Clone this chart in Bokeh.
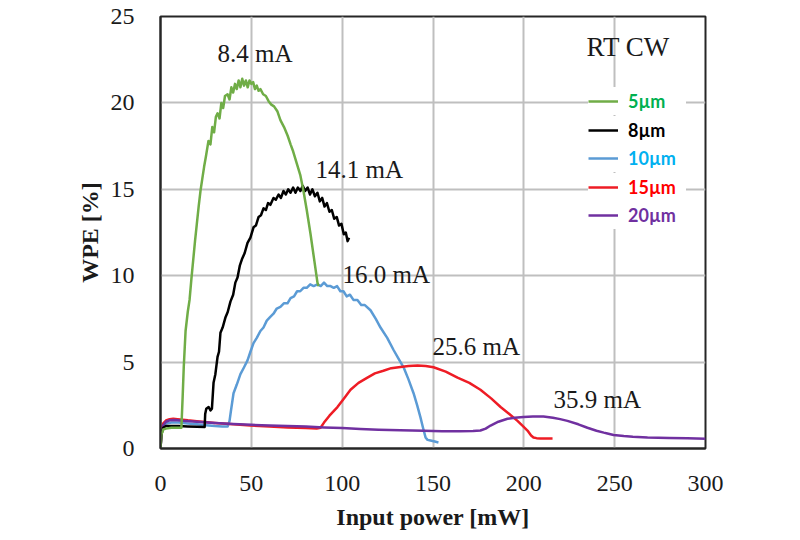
from bokeh.plotting import figure
from bokeh.models import Range1d, Legend, LegendItem, FixedTicker, ColumnDataSource
from bokeh.core.properties import value
from bokeh.embed import file_html
from bokeh.resources import INLINE

# ---------------- data ----------------
x_ticks = [0, 50, 100, 150, 200, 250, 300]
y_ticks = [0, 5, 10, 15, 20, 25]

series_names = ["5\u00b5m", "8\u00b5m", "10\u00b5m", "15\u00b5m", "20\u00b5m"]

wpe_5um = [(0, 0), (0.5, 0.8), (1.5, 1.1), (3, 1.15), (6, 1.2), (9, 1.2), (11.5, 1.2),
           (12.2, 3.0), (12.8, 4.7), (13.8, 6.8), (15, 7.9), (16, 8.6), (17, 9.8), (18, 10.9),
           (19, 12.0), (20, 13.0), (21, 14.0), (22, 14.9), (23, 15.6), (24, 16.3), (25, 16.9),
           (26.4, 17.8), (27.5, 17.6), (28.5, 18.6), (29.5, 18.3), (30.5, 19.2), (31.4, 19.4),
           (32.5, 19.1), (33.5, 20.0), (34.5, 19.7), (35.5, 20.4), (36.9, 20.5), (38, 20.2),
           (39, 20.9), (40, 20.6), (41, 21.1), (42, 20.8), (43, 21.3), (44, 20.9), (45, 21.4),
           (46, 21.0), (47, 21.3), (48, 20.9), (49, 21.3), (50, 21.1), (51, 21.2), (52, 20.8),
           (53, 21.0), (54, 20.7), (55, 20.8), (56.5, 20.5), (58, 20.4), (59.5, 20.1),
           (61, 19.9), (62.5, 19.8), (64.4, 19.5), (66, 19.0), (68, 18.6), (70, 18.1),
           (71.6, 17.6), (73, 17.2), (75, 16.5), (77, 15.8), (78.7, 14.9), (80.5, 13.8),
           (82.6, 12.4), (84.5, 11.0), (86.4, 9.6), (87, 9.4)]

wpe_8um = [(0, 0), (0.5, 0.8), (1.5, 1.2), (3, 1.3), (6, 1.3), (10, 1.3), (15, 1.28), (20, 1.26),
           (24.3, 1.25), (24.6, 2.0), (25.2, 2.3), (26.5, 2.4), (27.5, 2.2), (28.3, 2.3),
           (29.2, 3.8), (30.2, 4.3), (31.4, 5.3), (32.2, 5.6), (33, 6.7), (34.2, 7.0),
           (35.8, 7.6), (37, 7.9), (38.5, 8.5), (40, 8.9), (41.2, 9.6), (42.4, 9.9),
           (43.7, 10.6), (45, 11.0), (46.3, 11.3), (47.9, 11.9), (49.5, 12.2), (51.2, 12.8),
           (52.5, 12.9), (54, 13.4), (55.3, 13.5), (56.7, 13.9), (58, 13.8), (59.2, 14.2),
           (60.5, 14.1), (62.2, 14.5), (63.5, 14.4), (65, 14.7), (66.3, 14.5), (67.7, 14.9),
           (69, 14.7), (70.3, 15.0), (71.6, 14.8), (73, 15.1), (74.3, 14.8), (75.6, 15.1),
           (77, 14.9), (78.3, 15.2), (79.6, 14.9), (81, 15.1), (82.3, 14.7), (83.6, 15.0),
           (85, 14.6), (86.4, 14.8), (87.7, 14.3), (89, 14.5), (90.3, 14.0), (91.6, 14.2),
           (93, 13.7), (94.3, 13.8), (95.6, 13.3), (97, 13.4), (98.3, 12.9), (99.6, 13.0),
           (100.9, 12.4), (102, 12.5), (103, 12.0), (103.8, 12.2)]

wpe_10um = [(0, 0), (0.5, 0.9), (1.5, 1.3), (3, 1.45), (6, 1.5), (10, 1.5), (15, 1.45), (20, 1.4),
            (25, 1.35), (30, 1.3), (34, 1.28), (37, 1.28), (38, 1.6), (38.8, 2.2), (40.2, 3.2),
            (42, 3.7), (44, 4.3), (46, 4.7), (47.9, 5.1), (49.5, 5.6), (51.2, 6.1), (53, 6.4),
            (55, 6.8), (56.7, 7.0), (58.5, 7.4), (60.3, 7.6), (62.2, 7.8), (64, 8.1), (66, 8.2),
            (67.9, 8.4), (69.9, 8.4), (71.6, 8.7), (73.5, 8.8), (75.2, 9.1), (76.9, 9.1),
            (78.7, 9.3), (80.5, 9.3), (82.4, 9.5), (84.3, 9.4), (86.4, 9.5), (88.2, 9.4),
            (90, 9.6), (91.8, 9.4), (93.6, 9.4), (95.4, 9.3), (97.2, 9.4), (99, 9.1),
            (100.7, 9.1), (102.5, 8.8), (104.3, 8.9), (106.2, 8.6), (108.4, 8.6), (110.5, 8.3),
            (112.5, 8.3), (115.6, 8.0), (118.5, 7.5), (121.1, 7.0), (124.8, 6.4), (128.3, 5.7),
            (131, 5.2), (133.8, 4.7), (136.5, 4.0), (139.3, 3.2), (141.3, 2.5), (143.1, 1.8),
            (144.5, 1.2), (145.9, 0.64), (147, 0.5), (148.6, 0.46), (151, 0.4), (153, 0.35)]

wpe_15um = [(0, 0), (0.5, 1.0), (1.5, 1.45), (3, 1.62), (5, 1.7), (7, 1.72), (9.4, 1.7), (15, 1.63),
            (20, 1.58), (30, 1.48), (40, 1.4), (49.5, 1.33), (60, 1.27), (70, 1.22), (80, 1.18),
            (86, 1.16), (88.1, 1.2), (90, 1.5), (93, 1.9), (97.4, 2.4), (101, 2.9), (104.6, 3.4),
            (109, 3.8), (113.9, 4.1), (118, 4.35), (122.7, 4.5), (127, 4.65), (132.1, 4.72),
            (136.5, 4.78), (141.5, 4.8), (146, 4.78), (150.3, 4.7), (157, 4.45), (163.5, 4.1),
            (170, 3.8), (176.1, 3.4), (182, 2.9), (187.2, 2.4), (192, 2.0), (196.5, 1.6),
            (199.5, 1.3), (202, 1.04), (204, 0.75), (205.3, 0.64), (207, 0.6), (209.2, 0.58),
            (215.8, 0.58)]

wpe_20um = [(0, 0), (0.5, 0.9), (1.5, 1.35), (3, 1.55), (5, 1.63), (8, 1.65), (12, 1.6), (20, 1.55),
            (30, 1.48), (40, 1.42), (50, 1.37), (60, 1.33), (70, 1.3), (80, 1.27), (90, 1.22),
            (100, 1.18), (110, 1.13), (120, 1.09), (132, 1.05), (145, 1.02), (155, 1.0),
            (165, 1.0), (172, 1.01), (176.1, 1.04), (179, 1.15), (181.7, 1.33), (186, 1.55),
            (191, 1.72), (195, 1.78), (199.8, 1.82), (205, 1.85), (210.8, 1.85), (216, 1.78),
            (220, 1.7), (224, 1.6), (230, 1.4), (235, 1.2), (240, 1.03), (244, 0.92),
            (246, 0.87), (249.4, 0.78), (255, 0.72), (260, 0.68), (268.1, 0.64), (280, 0.61),
            (290, 0.59), (300, 0.57)]

annotation_texts = ["8.4 mA", "14.1 mA", "16.0 mA", "25.6 mA", "35.9 mA", "RT CW"]

# ---------------- layout / style ----------------
ann_x = [31.4, 85.3, 100.2, 149.7, 216.3, 234.5]
ann_y = [22.87, 16.12, 10.07, 5.9, 2.83, 23.26]
ann_size = ["25px", "25px", "25px", "25px", "25px", "27px"]

line_colors = ["#70AD47", "#000000", "#5B9BD5", "#EE1C25", "#7030A0"]
label_colors = ["#00B050", "#000000", "#00B0F0", "#FF0000", "#7030A0"]

FRAME_LEFT, FRAME_TOP, FRAME_RIGHT, FRAME_BOTTOM = 160, 16, 705, 448

p = figure(width=784, height=532, x_range=Range1d(0, 300), y_range=Range1d(0, 25),
           output_backend="svg", toolbar_location=None,
           min_border_left=FRAME_LEFT, min_border_right=784 - FRAME_RIGHT,
           min_border_top=FRAME_TOP, min_border_bottom=532 - FRAME_BOTTOM)
p.background_fill_color = "white"
p.border_fill_color = "white"
p.outline_line_color = "#262626"
p.outline_line_width = 2

p.xaxis.ticker = FixedTicker(ticks=x_ticks)
p.yaxis.ticker = FixedTicker(ticks=y_ticks)
for ax in (p.xaxis, p.yaxis):
    ax.axis_line_color = "#262626"
    ax.axis_line_width = 2
    ax.major_tick_line_color = None
    ax.minor_tick_line_color = None
    ax.major_label_text_font = "Liberation Serif"
    ax.major_label_text_font_size = "24px"
    ax.major_label_text_color = "#1a1a1a"
    ax.axis_label_text_font = "Liberation Serif"
    ax.axis_label_text_font_style = "bold"
    ax.axis_label_text_font_size = "24px"
    ax.axis_label_text_color = "#1a1a1a"
p.xaxis.major_label_standoff = 21
p.yaxis.major_label_standoff = 20
p.xaxis.axis_label = "Input power [mW]"
p.yaxis.axis_label = "WPE [%]"
p.xaxis.axis_label_standoff = 10
p.yaxis.axis_label_standoff = 5

p.grid.grid_line_color = "#BFBFBF"
p.grid.grid_line_width = 2

all_series = [wpe_5um, wpe_8um, wpe_10um, wpe_15um, wpe_20um]
draw_order = [2, 3, 4, 1, 0]
renderers = {}
for i in draw_order:
    xs = [pt[0] for pt in all_series[i]]
    ys = [pt[1] for pt in all_series[i]]
    renderers[i] = p.line(xs, ys, line_color=line_colors[i], line_width=2.5,
                          line_join="round")

src = ColumnDataSource(dict(x=ann_x, y=ann_y, t=annotation_texts, s=ann_size))
p.text(x="x", y="y", text="t", source=src, text_font=value("Liberation Serif"),
       text_font_size="s", text_color="#1a1a1a", text_baseline="alphabetic",
       text_align="left")

# one legend per entry so each label gets its own colour
row_h = 28.5
for i, name in enumerate(series_names):
    center_px = 101 + row_h * i          # from top of the image
    y_off = int(round(FRAME_BOTTOM - center_px - row_h / 2))
    leg = Legend(items=[LegendItem(label=name, renderers=[renderers[i]])],
                 location=(588 - FRAME_LEFT, y_off), orientation="vertical",
                 padding=0, margin=0, spacing=0,
                 glyph_width=30, glyph_height=int(row_h), label_height=int(row_h),
                 label_width=58, label_standoff=10,
                 label_text_font="Lato", label_text_font_style="bold",
                 label_text_font_size="18px", label_text_color=label_colors[i],
                 border_line_alpha=0, background_fill_color="white",
                 background_fill_alpha=1.0)
    p.add_layout(leg, "center")

open("out.html", "w").write(file_html(p, INLINE))
